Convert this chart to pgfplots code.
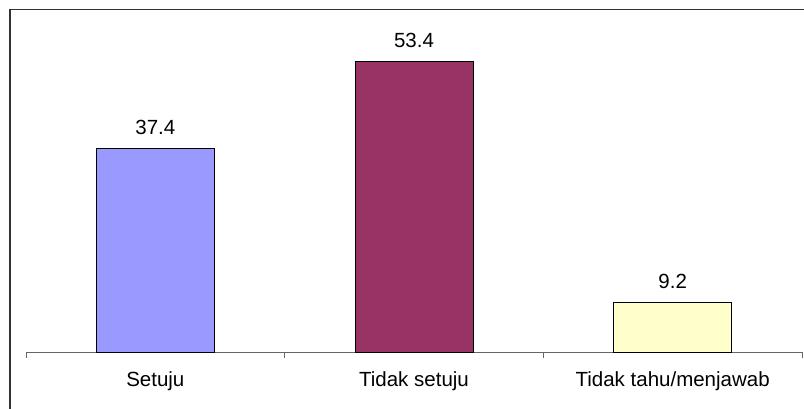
\documentclass[border=0pt]{standalone}
\usepackage{pgfplots}
\pgfplotsset{compat=1.18}
\usepackage{fontspec}
\setmainfont{Liberation Sans}
\definecolor{cA}{HTML}{9999FF}
\definecolor{cB}{HTML}{993366}
\definecolor{cC}{HTML}{FFFFCC}
\definecolor{frame}{HTML}{333333}
\begin{document}
\begin{tikzpicture}[x=1pt,y=1pt]
\path[use as bounding box] (0,0) rectangle (804,409);
\draw[frame, line width=1.6pt] (10,0) -- (10,399.5) -- (804,399.5);
\begin{axis}[
  at={(26pt,57pt)}, anchor=south west,
  scale only axis, width=776pt, height=326pt,
  xmin=-0.5, xmax=2.5, ymin=0, ymax=60,
  axis y line=none,
  axis x line*=bottom,
  x axis line style={draw=black!60, line width=0.9pt, -},
  xtick={0,1,2}, xticklabels={Setuju, Tidak setuju, Tidak tahu/menjawab},
  major tick length=0pt,
  minor xtick={-0.5,0.5,1.5,2.5},
  minor tick length=6pt,
  every minor tick/.style={draw=black!60, line width=0.9pt, yshift=-6pt},
  xticklabel style={font=\fontsize{20.5}{24}\selectfont, yshift=-16pt},
  bar width=118pt,
  nodes near coords,
  every node near coord/.append style={font=\fontsize{20.5}{24}\selectfont, black, yshift=10pt},
  nodes near coords style={/pgf/number format/.cd, fixed, fixed zerofill, precision=1, assume math mode=true},
  clip=false,
]
\addplot[ybar, fill=cA, draw=black, line width=0.8pt] coordinates {(0,37.4)};
\addplot[ybar, fill=cB, draw=black, line width=0.8pt] coordinates {(1,53.4)};
\addplot[ybar, fill=cC, draw=black, line width=0.8pt] coordinates {(2,9.2)};
\end{axis}
\end{tikzpicture}
\end{document}
